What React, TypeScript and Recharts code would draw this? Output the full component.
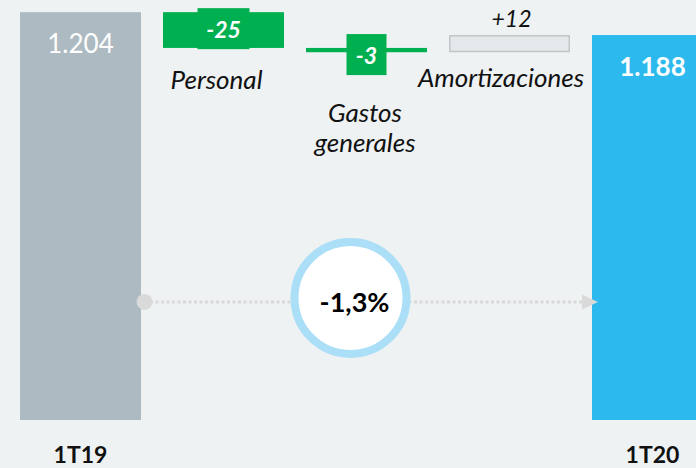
import React from "react";
import { BarChart, Bar, XAxis, YAxis, LabelList, ReferenceLine } from "recharts";

// ---- data ----
const categories = ["1T19", "Personal", "Gastos generales", "Amortizaciones", "1T20"];
const kinds = ["total", "delta", "delta", "delta", "total"];
const values = [1204, -25, -3, 12, 1188];
const valueLabels = ["1.204", "-25", "-3", "+12", "1.188"];
const changeLabel = "-1,3%";

// ---- axis / annotation levels (value units) ----
const AXIS_MIN = 919;
const AXIS_MAX = 1212.5;
const ARROW_LEVEL = 1001.5;

// ---- styles ----
const FONT = "Lato, 'Open Sans', 'Noto Sans', sans-serif";
const BG = "#EEF2F3";
const GREY = "#ADBAC2";
const BLUE = "#2CB9ED";
const GREEN = "#00B050";
const INC_FILL = "#E4E8EA";
const INC_STROKE = "#C2C6C8";
const RING = "#AADFF7";
const DOT = "#D9D9D9";
const TEXT = "#111111";

// name-label placement per category (dx from bar centre, dy from bar bottom to first baseline)
const nameLayout: Record<number, { dx: number; dy: number }> = {
  1: { dx: -7, dy: 41 },
  2: { dx: -1.5, dy: 70 },
  3: { dx: -8.5, dy: 35 },
};
const NAME_LINE_HEIGHT = 30;

let running = 0;
const data = categories.map((name, i) => {
  const kind = kinds[i];
  let range: number | number[];
  if (kind === "total") {
    running = values[i];
    range = values[i];
  } else {
    const start = running;
    running = start + values[i];
    range = [Math.min(start, running), Math.max(start, running)];
  }
  return { name, kind, delta: values[i], range, label: valueLabels[i] };
});

function geom(props: any) {
  const vb = props.viewBox || {};
  const x = props.x ?? vb.x;
  const y = props.y ?? vb.y;
  const width = props.width ?? vb.width;
  const height = props.height ?? vb.height;
  const top = Math.min(y, y + height);
  const h = Math.abs(height);
  return { x, top, width, h, bottom: top + h, cx: x + width / 2 };
}

const BarShape = (props: any) => {
  const { x, top, width, h } = geom(props);
  const idx = props.index;
  const d = props.payload && props.payload.kind ? props.payload : data[idx];
  if (d.kind === "total") {
    return <rect x={x} y={top} width={width} height={h} fill={d.name === categories[0] ? GREY : BLUE} />;
  }
  if (d.delta < 0) {
    return <rect x={x} y={top} width={width} height={h} fill={GREEN} />;
  }
  return (
    <rect
      x={x + 0.75}
      y={top + 0.75}
      width={width - 1.5}
      height={h - 1.5}
      fill={INC_FILL}
      stroke={INC_STROKE}
      strokeWidth={1.5}
    />
  );
};

const renderValue = (props: any) => {
  const idx = props.index;
  const d = data[idx];
  if (!d) return null;
  const { top, bottom, h, cx } = geom(props);
  if (d.kind === "total") {
    return (
      <text
        x={cx}
        y={top + 40.5}
        textAnchor="middle"
        fill="#ffffff"
        fontSize={26}
        fontWeight={idx === 0 ? 400 : 700}
        fontFamily={FONT}
      >
        {d.label}
      </text>
    );
  }
  if (d.delta < 0) {
    const mid = (top + bottom) / 2;
    const boxCy = h < 10 ? mid + 4.5 : mid - 1.4;
    const bw = d.label.length * 12 + 16;
    return (
      <g>
        <rect x={cx - bw / 2} y={boxCy - 20.5} width={bw} height={41} fill={GREEN} />
        <text
          x={cx}
          y={boxCy + 9}
          textAnchor="middle"
          fill="#ffffff"
          fontSize={23}
          fontWeight={700}
          fontStyle="italic"
          fontFamily={FONT}
        >
          {d.label}
        </text>
      </g>
    );
  }
  return (
    <text
      x={cx + 2}
      y={top - 8}
      textAnchor="middle"
      fill={TEXT}
      fontSize={23}
      fontStyle="italic"
      fontFamily={FONT}
    >
      {d.label}
    </text>
  );
};

const renderName = (props: any) => {
  const idx = props.index;
  const d = data[idx];
  if (!d || d.kind === "total") return null;
  const { bottom, cx } = geom(props);
  const lay = nameLayout[idx] || { dx: 0, dy: 40 };
  const lines = d.name.split(" ");
  return (
    <text
      x={cx + lay.dx}
      y={bottom + lay.dy}
      textAnchor="middle"
      fill={TEXT}
      fontSize={26}
      fontStyle="italic"
      fontFamily={FONT}
    >
      {lines.map((ln: string, i: number) => (
        <tspan key={i} x={cx + lay.dx} dy={i === 0 ? 0 : NAME_LINE_HEIGHT}>
          {ln}
        </tspan>
      ))}
    </text>
  );
};

const renderTick = (props: any) => {
  const { x, y, payload } = props;
  const i = categories.indexOf(payload.value);
  if (kinds[i] !== "total") return <g />;
  return (
    <text x={x} y={y + 43} textAnchor="middle" fill={TEXT} fontSize={23} fontWeight={700} fontFamily={FONT}>
      {payload.value}
    </text>
  );
};

const ArrowAnnotation = (p: any) => {
  const { x1, y1, x2 } = p;
  if (x1 == null || x2 == null) return null;
  const half = 60.5;
  const startX = x1 + half + 3.5;
  const tipX = x2 - half + 6;
  const baseX = tipX - 16;
  const cy = y1;
  const ccx = (x1 + x2) / 2 - 16;
  return (
    <g>
      <line x1={startX} y1={cy} x2={baseX} y2={cy} stroke={DOT} strokeWidth={3} strokeDasharray="3 2.5" />
      <circle cx={startX} cy={cy} r={8} fill={DOT} />
      <polygon points={`${baseX},${cy - 7.5} ${tipX},${cy} ${baseX},${cy + 7.5}`} fill={DOT} />
      <circle cx={ccx} cy={cy - 4} r={56} fill="#ffffff" stroke={RING} strokeWidth={8} />
      <text
        x={ccx + 4}
        y={cy + 10}
        textAnchor="middle"
        fill="#000000"
        fontSize={27}
        fontWeight={700}
        fontFamily={FONT}
      >
        {changeLabel}
      </text>
    </g>
  );
};

export default function App() {
  return (
    <div
      style={{
        position: "fixed",
        left: 0,
        top: 0,
        width: 696,
        height: 468,
        overflow: "hidden",
        background: BG,
      }}
    >
      <BarChart width={724} height={468} data={data} margin={{ top: 0, right: 0, left: 9, bottom: 0 }}>
        <XAxis
          dataKey="name"
          axisLine={false}
          tickLine={false}
          tickSize={0}
          tickMargin={0}
          height={48}
          interval={0}
          tick={renderTick}
        />
        <YAxis hide type="number" domain={[AXIS_MIN, AXIS_MAX]} allowDataOverflow />
        <Bar dataKey="range" barSize={121} shape={BarShape} isAnimationActive={false}>
          <LabelList dataKey="label" content={renderValue} />
          <LabelList dataKey="name" content={renderName} />
        </Bar>
        <ReferenceLine
          segment={[
            { x: categories[0], y: ARROW_LEVEL },
            { x: categories[4], y: ARROW_LEVEL },
          ]}
          shape={ArrowAnnotation}
          ifOverflow="visible"
        />
      </BarChart>
    </div>
  );
}
